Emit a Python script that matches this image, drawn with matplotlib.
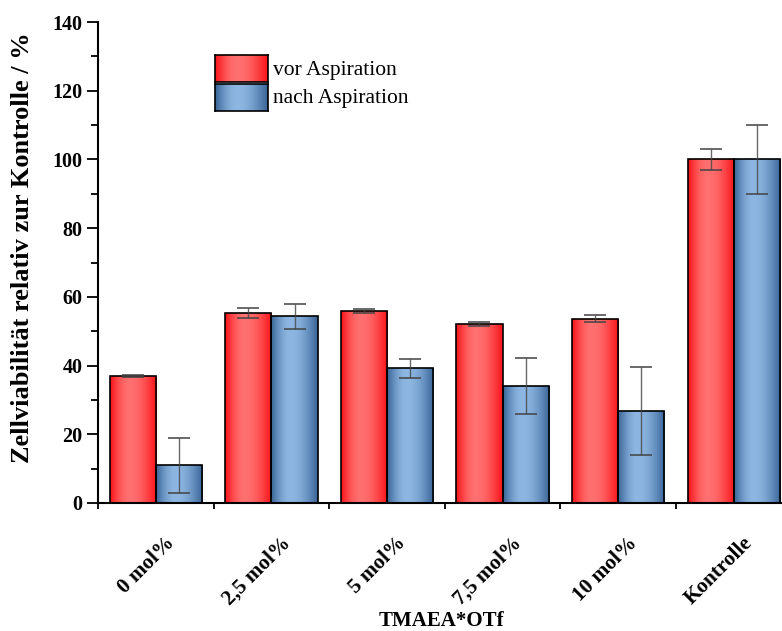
import numpy as np
import matplotlib
matplotlib.use("Agg")
import matplotlib.pyplot as plt
from matplotlib.ticker import MultipleLocator
from matplotlib.transforms import offset_copy

categories = ["0 mol%", "2,5 mol%", "5 mol%", "7,5 mol%", "10 mol%", "Kontrolle"]
vor_mean = [37.0, 55.3, 55.9, 52.0, 53.7, 100.0]
vor_err = [0.3, 1.5, 0.5, 0.6, 0.9, 3.0]
nach_mean = [11.0, 54.3, 39.2, 34.0, 26.8, 100.0]
nach_err = [8.0, 3.6, 2.8, 8.2, 12.8, 10.0]
series_labels = ["vor Aspiration", "nach Aspiration"]

plt.rcParams["font.family"] = ["Liberation Serif", "DejaVu Serif"]

RED_EDGE = np.array([250, 18, 24]) / 255
RED_MID = np.array([255, 112, 112]) / 255
BLUE_EDGE = np.array([56, 100, 150]) / 255
BLUE_MID = np.array([142, 182, 226]) / 255


def gradient(edge, mid, n=128, peak=0.42):
    t = np.linspace(0, 1, n)
    w = np.where(t < peak,
                 np.sin(0.5 * np.pi * t / peak),
                 np.sin(0.5 * np.pi * (1 - t) / (1 - peak)))
    rgb = edge[None, :] * (1 - w[:, None]) + mid[None, :] * w[:, None]
    return rgb[None, :, :]


red_img = gradient(RED_EDGE, RED_MID)
blue_img = gradient(BLUE_EDGE, BLUE_MID)

fig = plt.figure(figsize=(7.82, 6.31), dpi=100)
ax = fig.add_axes([98 / 782, 128 / 631, 693.6 / 782, 481 / 631])

x = np.arange(len(categories))
width = 0.4
bars_vor = ax.bar(x - width, vor_mean, width, align="edge", facecolor="none",
                  edgecolor="black", linewidth=1.2, zorder=3)
bars_nach = ax.bar(x, nach_mean, width, align="edge", facecolor="none",
                   edgecolor="black", linewidth=1.2, zorder=3)

for bars, img in ((bars_vor, red_img), (bars_nach, blue_img)):
    for b in bars:
        x0, y0 = b.get_x(), b.get_y()
        w, h = b.get_width(), b.get_height()
        im = ax.imshow(img, extent=[x0, x0 + w, y0, y0 + h], aspect="auto",
                       interpolation="bilinear", zorder=2)
        im.set_clip_path(b)

err_style = dict(fmt="none", ecolor="#444444", elinewidth=1.0, capsize=8,
                 capthick=1.4, zorder=4, alpha=0.8)
ax.errorbar(x - width / 2, vor_mean, yerr=vor_err, **err_style)
ax.errorbar(x + width / 2, nach_mean, yerr=nach_err, **err_style)

ax.set_xlim(-0.5, len(categories) - 0.5)
ax.set_ylim(0, 140)
ax.yaxis.set_major_locator(MultipleLocator(20))
ax.yaxis.set_minor_locator(MultipleLocator(10))

ax.set_xticks(np.arange(-0.5, len(categories), 1.0))
ax.set_xticklabels([])
ax.tick_params(axis="x", which="major", direction="out", length=4, width=1.3)
ax.tick_params(axis="y", which="major", direction="out", length=8, width=1.3,
               labelsize=14.5, pad=3)
ax.tick_params(axis="y", which="minor", direction="out", length=5, width=1.3)
for lab in ax.get_yticklabels():
    lab.set_fontweight("bold")

for side in ("top", "right"):
    ax.spines[side].set_visible(False)
for side in ("left", "bottom"):
    ax.spines[side].set_linewidth(1.5)

label_tf = offset_copy(ax.get_xaxis_transform(), fig=fig, x=16, y=-37, units="dots")
for xi, cat in zip(x, categories):
    ax.text(xi, 0, cat, transform=label_tf, rotation=45, ha="right", va="center",
            rotation_mode="anchor", fontsize=15.3, fontweight="bold")

fig.text(23 / 782, 1 - 248 / 631, "Zellviabilität relativ zur Kontrolle / %",
         rotation=90, ha="center", va="center", fontsize=19, fontweight="bold")
fig.text(441 / 782, 1 - 621.5 / 631, "TMAEA*OTf", ha="center", va="center",
         fontsize=15, fontweight="bold")

# legend drawn as gradient swatches with text
for i, (img, lab) in enumerate(zip((red_img, blue_img), series_labels)):
    top = 55 + i * 29
    sw = fig.add_axes([215 / 782, 1 - (top + 27) / 631, 53 / 782, 27 / 631])
    sw.imshow(img, aspect="auto", interpolation="bilinear")
    sw.set_xticks([])
    sw.set_yticks([])
    for sp in sw.spines.values():
        sp.set_linewidth(1.2)
    fig.text(273 / 782, 1 - (top + 15) / 631, lab, ha="left", va="center",
             fontsize=15.5)

fig.savefig("out.png", dpi=100)
